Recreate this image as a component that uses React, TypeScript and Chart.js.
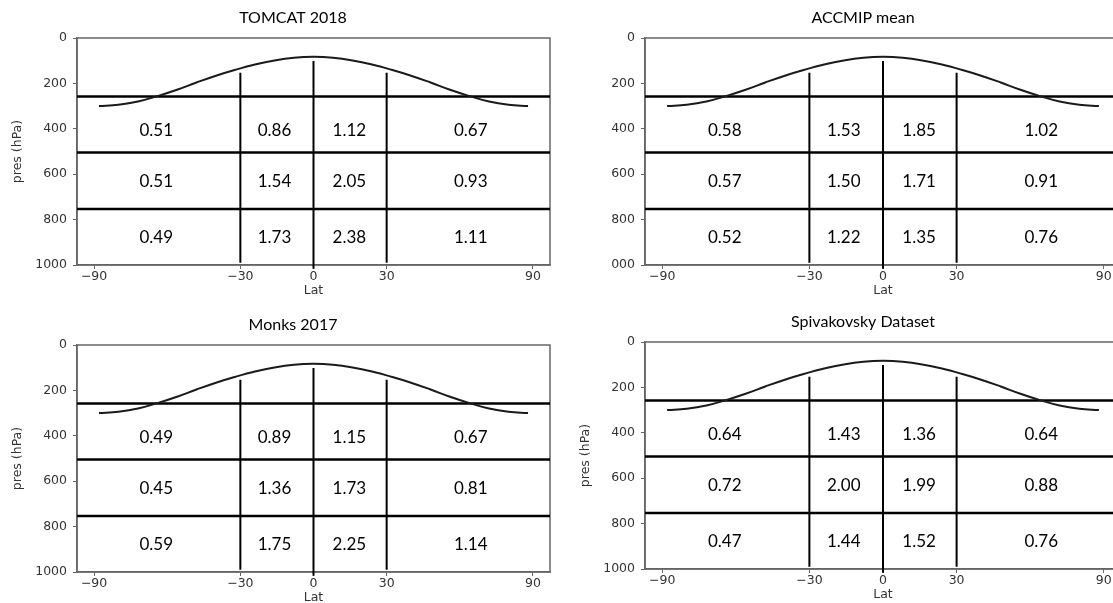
import React, { useEffect, useRef } from "react";
import { Chart, registerables } from "chart.js";

Chart.register(...registerables);

// ---- axes ----
const latTicks = [-90, -30, 0, 30, 90];
const presTicks = [0, 200, 400, 600, 800, 1000];
const latMin = -97;
const latMax = 97;
const presMin = 0;
const presMax = 1000;

// ---- tropopause curve ----
const curveLat = [-88, -80, -72, -64, -56, -48, -40, -32, -24, -16, -8, 0, 8, 16, 24, 32, 40, 48, 56, 64, 72, 80, 88];
const curvePres = [300, 294, 280, 256, 228, 196, 166, 140, 117, 99, 87, 83, 87, 99, 117, 140, 166, 196, 228, 256, 280, 294, 300];

// ---- box divisions ----
const levelPres = [258, 504, 753];
const dividerLat = [-30, 0, 30];
const dividerTop = [153, 101, 153];
const dividerBottom = [990, 1017, 990];

// ---- cell label positions ----
const cellLat = [-64.5, -16, 14.7, 64.5];
const cellPres = [406, 634, 879];

// ---- cell values (rows: upper, middle, lower troposphere) ----
const tomcat2018 = [
  [0.51, 0.86, 1.12, 0.67],
  [0.51, 1.54, 2.05, 0.93],
  [0.49, 1.73, 2.38, 1.11],
];
const accmipMean = [
  [0.58, 1.53, 1.85, 1.02],
  [0.57, 1.5, 1.71, 0.91],
  [0.52, 1.22, 1.35, 0.76],
];
const monks2017 = [
  [0.49, 0.89, 1.15, 0.67],
  [0.45, 1.36, 1.73, 0.81],
  [0.59, 1.75, 2.25, 1.14],
];
const spivakovsky = [
  [0.64, 1.43, 1.36, 0.64],
  [0.72, 2.0, 1.99, 0.88],
  [0.47, 1.44, 1.52, 0.76],
];

const tickFont = { family: "'DejaVu Sans', sans-serif", size: 12.5, lineHeight: 1.2 };
const tickColor = "#333";
const axisColor = "#666";

const fmtLat = (v: number) => (v < 0 ? "\u2212" + Math.abs(v) : String(v));

type PanelProps = {
  title: string;
  values: number[][];
  clipLeft: number;
  clipTop: number;
  clipWidth: number;
  clipHeight: number;
  canvasLeft: number;
  canvasTop: number;
  canvasWidth: number;
  canvasHeight: number;
  rightPad: number;
};

function Panel(p: PanelProps) {
  const ref = useRef<HTMLCanvasElement | null>(null);
  useEffect(() => {
    if (!ref.current) return;
    const framePlugin = {
      id: "frame",
      beforeDatasetsDraw(chart: any) {
        const { ctx, chartArea } = chart;
        ctx.save();
        ctx.strokeStyle = axisColor;
        ctx.lineWidth = 1.5;
        ctx.strokeRect(chartArea.left, chartArea.top, chartArea.right - chartArea.left, chartArea.bottom - chartArea.top);
        ctx.restore();
      },
    };
    const cellPlugin = {
      id: "cells",
      afterDatasetsDraw(chart: any) {
        const { ctx } = chart;
        const xs = chart.scales.x;
        const ys = chart.scales.y;
        ctx.save();
        ctx.font = "17px Lato, 'Open Sans', sans-serif";
        ctx.fillStyle = "#000";
        ctx.textAlign = "center";
        ctx.textBaseline = "middle";
        p.values.forEach((row, r) => {
          row.forEach((v, c) => {
            ctx.fillText(v.toFixed(2), xs.getPixelForValue(cellLat[c]), ys.getPixelForValue(cellPres[r]));
          });
        });
        ctx.restore();
      },
    };
    const datasets: any[] = [
      {
        data: curveLat.map((x, i) => ({ x, y: curvePres[i] })),
        borderColor: "#1a1a1a",
        borderWidth: 2,
        pointRadius: 0,
        tension: 0.4,
        xAxisID: "x",
        yAxisID: "y",
      },
      ...levelPres.map((pr) => ({
        data: [
          { x: latMin, y: pr },
          { x: latMax, y: pr },
        ],
        borderColor: "#000",
        borderWidth: 2.5,
        pointRadius: 0,
        xAxisID: "x",
        yAxisID: "y",
      })),
      ...dividerLat.map((lat, i) => ({
        data: [
          { x: lat, y: dividerTop[i] },
          { x: lat, y: dividerBottom[i] },
        ],
        borderColor: "#000",
        borderWidth: 2,
        pointRadius: 0,
        clip: false,
        xAxisID: "x",
        yAxisID: "y",
      })),
    ];
    const chart = new Chart(ref.current, {
      type: "line",
      data: { datasets },
      options: {
        responsive: false,
        animation: false,
        devicePixelRatio: 1,
        layout: { padding: { left: 0, right: 0, top: 0, bottom: 0 } },
        plugins: {
          legend: { display: false },
          tooltip: { enabled: false },
          title: {
            display: true,
            text: p.title,
            color: "#000",
            font: { family: "Lato, 'Open Sans', sans-serif", size: 16, weight: "normal", lineHeight: 1.2 },
            padding: { top: 8, bottom: 10.8 },
          },
        },
        scales: {
          x: {
            type: "linear",
            min: latMin,
            max: latMax,
            afterBuildTicks: (s: any) => {
              s.ticks = latTicks.map((v) => ({ value: v }));
            },
            afterFit: (s: any) => {
              s.height = 35;
            },
            ticks: {
              callback: (v: any) => fmtLat(Number(v)),
              font: tickFont,
              color: tickColor,
              padding: 0,
              maxRotation: 0,
              autoSkip: false,
            },
            grid: { drawOnChartArea: false, tickLength: 4, color: axisColor, lineWidth: 1 },
            border: { color: axisColor, width: 1.5 },
            title: { display: true, text: "Lat", font: tickFont, color: tickColor, padding: { top: 0, bottom: 2 } },
          },
          y: {
            type: "linear",
            reverse: true,
            min: presMin,
            max: presMax,
            afterBuildTicks: (s: any) => {
              s.ticks = presTicks.map((v) => ({ value: v }));
            },
            afterFit: (s: any) => {
              s.width = 77;
            },
            ticks: { callback: (v: any) => String(v), font: tickFont, color: tickColor, padding: 6, autoSkip: false },
            grid: { drawOnChartArea: false, tickLength: 4, color: axisColor, lineWidth: 1 },
            border: { color: axisColor, width: 1.5 },
            title: { display: true, text: "pres (hPa)", font: tickFont, color: tickColor, padding: { top: 10, bottom: 0 } },
          },
          pad: {
            type: "linear",
            axis: "y",
            position: "right",
            display: true,
            ticks: { display: false },
            grid: { display: false, drawTicks: false },
            border: { display: false },
            afterFit: (s: any) => {
              s.width = p.rightPad;
            },
          },
        },
      } as any,
      plugins: [framePlugin, cellPlugin],
    });
    return () => chart.destroy();
  }, []);
  return (
    <div
      style={{
        position: "absolute",
        left: p.clipLeft,
        top: p.clipTop,
        width: p.clipWidth,
        height: p.clipHeight,
        overflow: "hidden",
      }}
    >
      <canvas
        ref={ref}
        width={p.canvasWidth}
        height={p.canvasHeight}
        style={{
          position: "absolute",
          left: p.canvasLeft - p.clipLeft,
          top: p.canvasTop - p.clipTop,
          width: p.canvasWidth,
          height: p.canvasHeight,
        }}
      />
    </div>
  );
}

export default function App() {
  return (
    <div
      style={{
        position: "fixed",
        left: 0,
        top: 0,
        width: 1113,
        height: 603,
        overflow: "hidden",
        background: "#fff",
      }}
    >
      <Panel title="TOMCAT 2018" values={tomcat2018} clipLeft={0} clipTop={0} clipWidth={600} clipHeight={300}
        canvasLeft={0} canvasTop={0} canvasWidth={586} canvasHeight={300} rightPad={36} />
      <Panel title="ACCMIP mean" values={accmipMean} clipLeft={611} clipTop={0} clipWidth={502} clipHeight={300}
        canvasLeft={568} canvasTop={0} canvasWidth={590} canvasHeight={300} rightPad={37} />
      <Panel title="Monks 2017" values={monks2017} clipLeft={0} clipTop={300} clipWidth={600} clipHeight={303}
        canvasLeft={0} canvasTop={307} canvasWidth={586} canvasHeight={300} rightPad={36} />
      <Panel title="Spivakovsky Dataset" values={spivakovsky} clipLeft={556} clipTop={300} clipWidth={557} clipHeight={303}
        canvasLeft={568} canvasTop={304} canvasWidth={590} canvasHeight={300} rightPad={37} />
    </div>
  );
}
